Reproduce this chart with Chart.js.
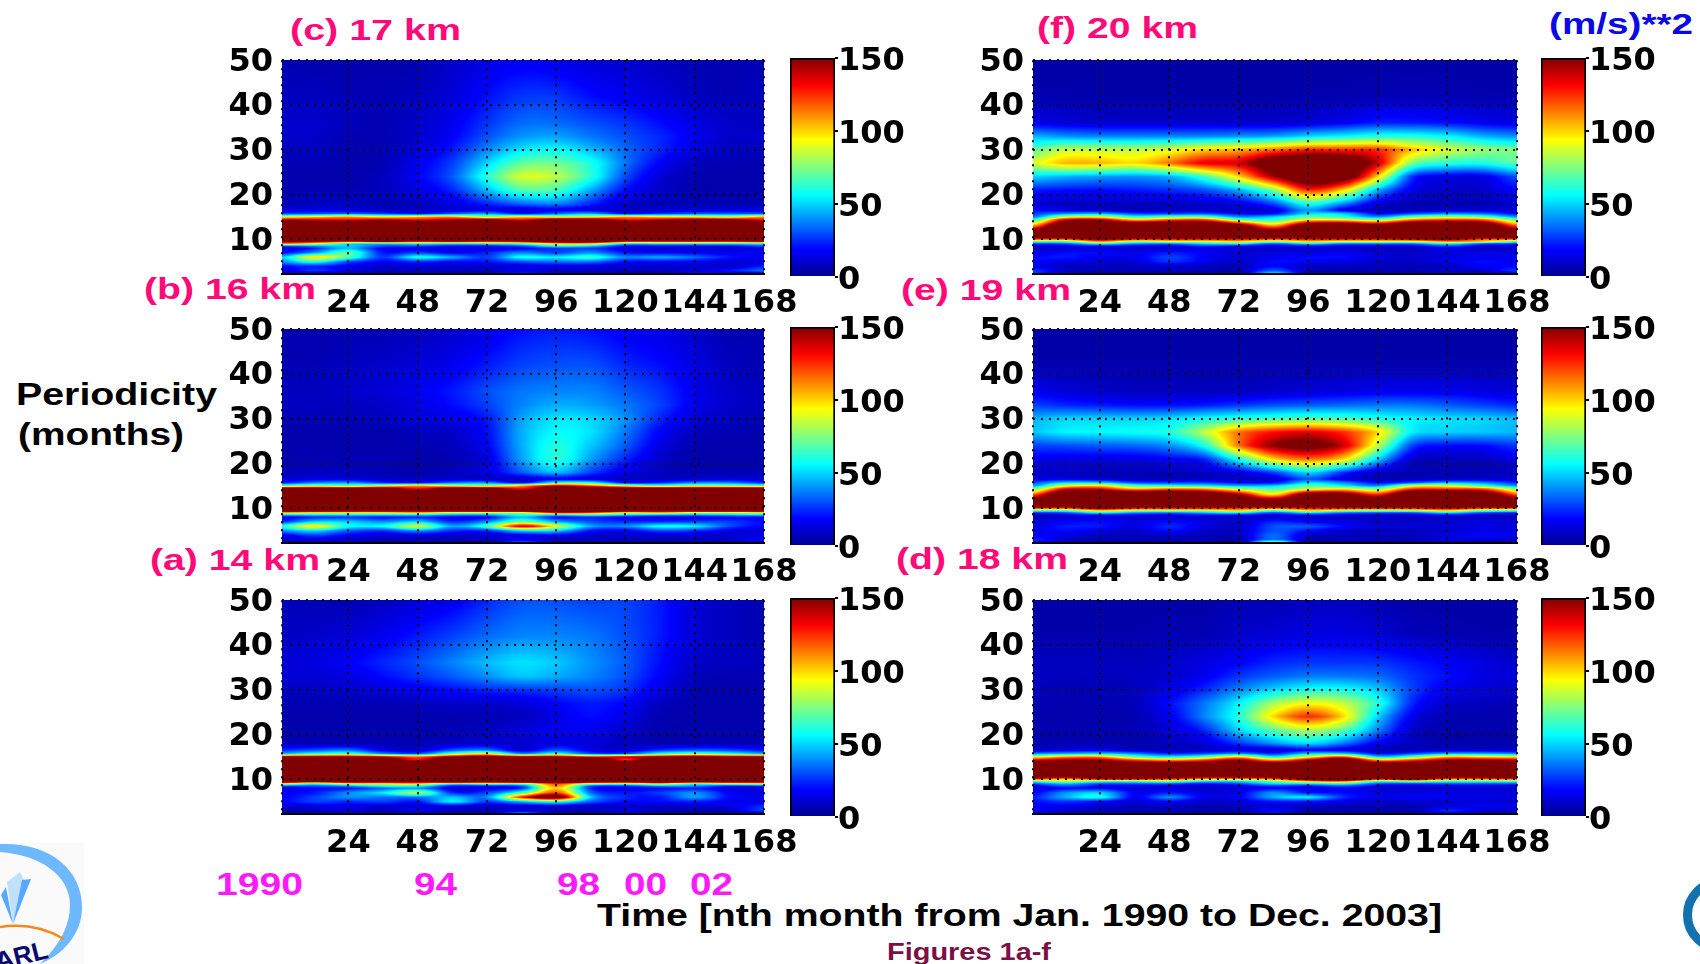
<!DOCTYPE html>
<html>
<head>
<meta charset="utf-8">
<title>Periodicity spectra</title>
<script src="https://cdn.jsdelivr.net/npm/chart.js@4"></script>
<style>
    html, body { margin: 0; background: #fff; }
    body { width: 1700px; height: 964px; position: relative; overflow: hidden; }
    canvas { position: absolute; }
    svg { position: absolute; left: 0; top: 0; }
    svg text { font-family: "Liberation Sans", sans-serif; font-weight: bold; }
</style>
</head>
<body>
<svg width="1700" height="964" viewBox="0 0 1700 964">
    <!-- logos -->
    <rect x="0" y="843" width="84" height="121" fill="#fafafa"/>
    <path d="M0 844 C50 842 82 870 82 907 C82 935 62 955 40 964 C60 945 70 925 70 905 C70 875 40 855 0 852 Z" fill="#6db8ff"/>
    <polygon points="13,924 1,895 6,887 13,924" fill="#55aaff"/>
    <polygon points="13,924 7,882 20,872 24,880 13,924" fill="#bfe0ff"/>
    <polygon points="13,924 22,880 31,879 13,924" fill="#55aaff"/>
    <path d="M0 927 Q35 922 64 939" fill="none" stroke="#f28a1c" stroke-width="2.5"/>
    <text x="-4" y="970" transform="rotate(-14 0 964)" font-size="26" fill="#0a0a6e">ARL</text>
    <circle cx="1721" cy="915" r="33.5" fill="none" stroke="#1172b0" stroke-width="9"/>

    <!-- panel titles -->
    <g font-size="29" fill="#ff0a78">
        <text x="290" y="40" textLength="171" lengthAdjust="spacingAndGlyphs">(c) 17 km</text>
        <text x="1037" y="38" textLength="161" lengthAdjust="spacingAndGlyphs">(f) 20 km</text>
        <text x="144" y="299" textLength="172" lengthAdjust="spacingAndGlyphs">(b) 16 km</text>
        <text x="901" y="300" textLength="170" lengthAdjust="spacingAndGlyphs">(e) 19 km</text>
        <text x="150" y="570" textLength="170" lengthAdjust="spacingAndGlyphs">(a) 14 km</text>
        <text x="896" y="569" textLength="172" lengthAdjust="spacingAndGlyphs">(d) 18 km</text>
    </g>
    <text x="1549" y="34" font-size="30" fill="#0a0ae6" textLength="144" lengthAdjust="spacingAndGlyphs">(m/s)**2</text>

    <!-- axis captions -->
    <g font-size="31" fill="#000">
        <text x="16" y="405" textLength="201" lengthAdjust="spacingAndGlyphs">Periodicity</text>
        <text x="18" y="445" textLength="166" lengthAdjust="spacingAndGlyphs">(months)</text>
        <text x="597" y="926" textLength="845" lengthAdjust="spacingAndGlyphs">Time [nth month from Jan. 1990 to Dec. 2003]</text>
    </g>
    <g font-size="31" fill="#ff19ff">
        <text x="216" y="895" textLength="87" lengthAdjust="spacingAndGlyphs">1990</text>
        <text x="414" y="895" textLength="43" lengthAdjust="spacingAndGlyphs">94</text>
        <text x="557" y="895" textLength="43" lengthAdjust="spacingAndGlyphs">98</text>
        <text x="624" y="895" textLength="43" lengthAdjust="spacingAndGlyphs">00</text>
        <text x="690" y="895" textLength="43" lengthAdjust="spacingAndGlyphs">02</text>
    </g>
    <text x="887" y="960" font-size="24" fill="#7a1044" textLength="164" lengthAdjust="spacingAndGlyphs">Figures 1a-f</text>
</svg>

<script>
// Grille : mois (colonnes) et périodes (lignes, de haut en bas)
const months = [1, 12, 24, 36, 48, 60, 72, 84, 96, 108, 120, 132, 144, 156, 168];
const periods = [50, 42, 36, 33, 30, 27, 24, 21, 18, 16.5, 15.7, 15, 14.4, 13, 11, 10, 9.5, 9, 8.5, 8, 7, 6, 5, 4, 3, 2.3];

const monthTicks = [1, 24, 48, 72, 96, 120, 144, 168];
const periodTicks = [10, 20, 30, 40, 50];
const colorTicks = [0, 50, 100, 150];
const colorMax = [150];

// Palette type jet
const jetValues = [0, 18.75, 56, 75, 94, 131, 150];
const jetColors = [[0, 0, 143], [0, 0, 255], [0, 255, 255], [128, 255, 128], [255, 255, 0], [255, 0, 0], [128, 0, 0]];

const km17 = [
    [6, 5, 5, 5, 6, 10, 14, 16, 14, 12, 10, 8, 6, 6, 6],
    [8, 8, 6, 6, 8, 12, 20, 26, 26, 20, 16, 12, 8, 6, 8],
    [10, 10, 8, 6, 10, 16, 26, 34, 34, 30, 26, 20, 14, 10, 8],
    [10, 10, 6, 6, 10, 18, 30, 40, 42, 36, 30, 24, 16, 10, 10],
    [8, 8, 6, 6, 12, 22, 38, 52, 56, 46, 34, 24, 14, 8, 8],
    [6, 6, 5, 6, 16, 28, 50, 70, 72, 60, 36, 18, 8, 6, 6],
    [5, 5, 5, 8, 18, 32, 62, 88, 84, 62, 30, 12, 6, 5, 5],
    [5, 6, 6, 8, 14, 24, 46, 68, 66, 44, 20, 10, 5, 5, 5],
    [6, 8, 8, 6, 8, 14, 24, 34, 38, 24, 10, 6, 6, 6, 6],
    [12, 14, 12, 8, 8, 10, 12, 10, 14, 12, 8, 10, 12, 12, 14],
    [28, 30, 34, 28, 20, 32, 42, 20, 34, 44, 20, 26, 32, 32, 30],
    [90, 100, 110, 95, 105, 110, 80, 100, 85, 90, 110, 100, 95, 85, 110],
    [140, 135, 130, 140, 130, 140, 150, 130, 160, 160, 130, 140, 150, 150, 130],
    [200, 200, 200, 200, 200, 200, 200, 200, 200, 200, 200, 200, 200, 200, 200],
    [200, 200, 200, 200, 200, 200, 200, 200, 200, 200, 200, 200, 200, 200, 200],
    [200, 200, 200, 200, 200, 200, 200, 200, 200, 200, 200, 200, 200, 200, 200],
    [150, 145, 130, 150, 130, 140, 130, 140, 170, 170, 130, 130, 130, 130, 140],
    [110, 90, 50, 45, 55, 50, 55, 65, 95, 95, 50, 50, 50, 50, 55],
    [30, 40, 50, 30, 30, 20, 20, 30, 60, 50, 20, 20, 20, 20, 30],
    [10, 22, 45, 16, 12, 12, 12, 16, 25, 25, 12, 10, 10, 10, 12],
    [20, 40, 70, 22, 28, 18, 24, 38, 28, 40, 22, 18, 18, 16, 18],
    [50, 100, 70, 28, 60, 45, 28, 60, 55, 65, 40, 45, 35, 22, 16],
    [40, 60, 30, 18, 24, 18, 22, 30, 35, 35, 20, 18, 18, 12, 12],
    [20, 22, 16, 10, 12, 10, 10, 12, 14, 12, 10, 10, 10, 10, 22],
    [12, 26, 14, 8, 8, 8, 8, 14, 10, 10, 8, 8, 12, 22, 35],
    [6, 10, 6, 4, 6, 4, 4, 25, 8, 4, 4, 4, 20, 8, 10]
];

const km20 = [
    [4, 4, 4, 4, 4, 4, 4, 4, 4, 4, 4, 4, 4, 4, 4],
    [5, 5, 4, 4, 4, 4, 4, 4, 5, 5, 6, 6, 6, 5, 5],
    [14, 12, 10, 10, 10, 10, 10, 10, 12, 16, 22, 22, 20, 16, 14],
    [45, 40, 38, 38, 38, 38, 40, 42, 50, 55, 60, 60, 55, 45, 40],
    [70, 85, 85, 85, 90, 100, 105, 115, 125, 125, 125, 105, 90, 80, 75],
    [90, 105, 105, 100, 115, 135, 140, 175, 190, 180, 140, 75, 62, 60, 70],
    [50, 45, 42, 40, 45, 65, 100, 145, 180, 170, 100, 25, 14, 14, 30],
    [22, 20, 20, 22, 25, 30, 45, 75, 125, 100, 45, 15, 10, 10, 18],
    [10, 8, 8, 8, 8, 10, 14, 30, 60, 40, 12, 6, 6, 6, 10],
    [20, 12, 8, 6, 8, 8, 8, 12, 40, 14, 6, 6, 8, 10, 12],
    [28, 40, 45, 30, 28, 30, 20, 20, 50, 50, 20, 30, 40, 35, 20],
    [35, 85, 90, 60, 70, 70, 40, 50, 70, 60, 40, 70, 80, 70, 40],
    [60, 135, 140, 100, 115, 120, 70, 60, 90, 90, 75, 110, 120, 115, 70],
    [110, 190, 200, 200, 200, 200, 170, 110, 180, 190, 170, 200, 200, 190, 120],
    [200, 200, 200, 200, 200, 200, 200, 200, 200, 200, 200, 200, 200, 200, 200],
    [120, 120, 150, 130, 130, 130, 130, 120, 130, 130, 130, 140, 150, 120, 120],
    [70, 70, 110, 80, 90, 90, 100, 80, 100, 90, 90, 90, 110, 100, 70],
    [25, 30, 55, 40, 35, 50, 55, 30, 50, 35, 35, 35, 55, 30, 25],
    [12, 15, 20, 15, 15, 25, 20, 14, 20, 15, 14, 14, 30, 14, 12],
    [8, 10, 12, 10, 10, 14, 10, 8, 10, 10, 8, 8, 14, 8, 8],
    [14, 20, 20, 16, 22, 18, 12, 14, 14, 16, 10, 10, 14, 14, 14],
    [20, 22, 16, 16, 28, 18, 12, 16, 20, 20, 14, 10, 14, 16, 16],
    [20, 14, 12, 12, 26, 16, 10, 20, 18, 14, 10, 10, 14, 20, 16],
    [14, 8, 8, 8, 10, 8, 6, 18, 8, 8, 8, 6, 8, 18, 18],
    [28, 10, 8, 6, 8, 8, 6, 32, 8, 6, 6, 6, 10, 10, 28],
    [26, 6, 4, 4, 4, 4, 4, 55, 4, 4, 4, 4, 8, 4, 14]
];

const km16 = [
    [5, 5, 6, 6, 8, 10, 14, 20, 22, 20, 16, 14, 10, 6, 6],
    [6, 6, 8, 10, 12, 16, 22, 28, 30, 30, 24, 20, 14, 8, 6],
    [8, 8, 10, 12, 16, 22, 30, 36, 38, 38, 32, 26, 16, 10, 8],
    [8, 8, 8, 10, 14, 20, 28, 38, 44, 42, 36, 28, 16, 10, 8],
    [6, 6, 6, 8, 12, 14, 22, 42, 52, 50, 40, 24, 12, 8, 6],
    [5, 5, 5, 5, 8, 10, 20, 44, 56, 52, 36, 18, 8, 6, 5],
    [5, 5, 5, 5, 6, 8, 18, 44, 60, 48, 32, 14, 6, 5, 5],
    [5, 6, 6, 6, 5, 6, 14, 42, 62, 42, 24, 10, 5, 5, 5],
    [6, 8, 8, 6, 5, 8, 14, 32, 46, 28, 14, 8, 6, 6, 6],
    [10, 14, 12, 10, 8, 10, 8, 8, 14, 10, 8, 8, 10, 12, 12],
    [22, 36, 42, 24, 18, 34, 40, 14, 60, 60, 18, 24, 38, 38, 24],
    [70, 80, 70, 90, 110, 90, 80, 110, 140, 120, 90, 70, 80, 75, 70],
    [170, 170, 170, 170, 130, 170, 170, 130, 180, 180, 170, 170, 170, 170, 170],
    [200, 200, 200, 200, 200, 200, 200, 200, 200, 200, 200, 200, 200, 200, 200],
    [200, 200, 200, 200, 200, 200, 200, 200, 200, 200, 200, 200, 200, 200, 200],
    [200, 200, 200, 200, 200, 200, 200, 200, 200, 200, 200, 200, 200, 200, 200],
    [180, 180, 170, 170, 170, 180, 180, 190, 190, 190, 180, 170, 180, 180, 180],
    [100, 90, 90, 90, 100, 80, 80, 80, 130, 120, 90, 100, 80, 80, 90],
    [45, 50, 50, 50, 50, 40, 40, 60, 50, 60, 50, 40, 40, 45, 50],
    [12, 22, 24, 18, 22, 14, 16, 45, 18, 22, 14, 12, 12, 16, 16],
    [25, 50, 50, 40, 50, 25, 40, 70, 45, 30, 25, 25, 28, 28, 20],
    [65, 100, 60, 60, 90, 45, 70, 140, 95, 45, 40, 60, 55, 30, 18],
    [40, 50, 32, 25, 40, 25, 24, 50, 50, 20, 16, 28, 25, 14, 12],
    [16, 28, 18, 12, 12, 10, 10, 14, 16, 10, 10, 10, 10, 10, 14],
    [10, 10, 10, 6, 8, 6, 8, 16, 8, 8, 8, 6, 8, 10, 20],
    [6, 6, 4, 4, 4, 4, 4, 35, 6, 4, 4, 4, 4, 4, 8]
];

const km19 = [
    [4, 4, 4, 4, 4, 4, 4, 4, 4, 4, 4, 4, 4, 4, 4],
    [5, 5, 5, 5, 5, 5, 5, 5, 5, 5, 5, 5, 5, 5, 5],
    [16, 12, 10, 8, 8, 8, 8, 10, 12, 14, 16, 16, 16, 14, 12],
    [28, 24, 22, 20, 20, 22, 26, 30, 32, 34, 36, 36, 32, 28, 24],
    [45, 50, 50, 50, 52, 58, 62, 65, 68, 66, 60, 55, 52, 50, 46],
    [48, 55, 56, 58, 62, 85, 115, 130, 135, 125, 100, 55, 50, 48, 46],
    [28, 30, 32, 34, 40, 60, 115, 150, 160, 140, 85, 28, 20, 20, 26],
    [16, 14, 14, 14, 18, 24, 60, 100, 115, 100, 50, 10, 8, 8, 14],
    [8, 8, 6, 6, 6, 8, 14, 28, 50, 26, 8, 6, 6, 6, 8],
    [14, 14, 10, 8, 6, 8, 8, 10, 30, 12, 6, 6, 8, 10, 12],
    [30, 50, 50, 30, 28, 28, 20, 20, 50, 40, 20, 30, 45, 40, 25],
    [40, 90, 100, 70, 60, 55, 45, 50, 70, 55, 40, 90, 90, 65, 40],
    [70, 130, 130, 100, 110, 105, 80, 65, 80, 90, 75, 120, 120, 115, 75],
    [120, 190, 200, 200, 200, 190, 150, 100, 170, 170, 130, 200, 200, 190, 120],
    [200, 200, 200, 200, 200, 200, 200, 200, 200, 200, 200, 200, 200, 200, 200],
    [125, 120, 150, 130, 130, 130, 125, 120, 130, 130, 130, 130, 140, 125, 125],
    [70, 70, 100, 85, 85, 85, 100, 70, 100, 85, 80, 85, 100, 75, 70],
    [25, 30, 55, 40, 35, 45, 55, 30, 50, 35, 30, 30, 50, 30, 25],
    [10, 14, 20, 16, 15, 20, 20, 14, 20, 14, 12, 12, 20, 12, 10],
    [6, 10, 12, 10, 10, 10, 8, 10, 10, 8, 8, 8, 10, 8, 6],
    [12, 18, 20, 14, 20, 14, 10, 24, 18, 14, 10, 10, 10, 14, 12],
    [14, 22, 22, 14, 24, 14, 10, 30, 32, 20, 12, 12, 12, 14, 12],
    [14, 20, 14, 10, 20, 10, 10, 30, 20, 10, 8, 8, 10, 14, 14],
    [18, 14, 8, 8, 8, 8, 8, 34, 10, 8, 8, 8, 14, 20, 16],
    [25, 10, 6, 6, 6, 6, 6, 35, 6, 6, 6, 6, 12, 10, 10],
    [20, 6, 4, 4, 4, 4, 4, 85, 4, 4, 4, 4, 6, 4, 4]
];

const km14 = [
    [8, 6, 6, 8, 12, 16, 24, 30, 30, 28, 28, 22, 12, 8, 6],
    [8, 10, 12, 16, 22, 28, 34, 38, 38, 36, 30, 22, 12, 8, 6],
    [12, 14, 18, 24, 30, 38, 46, 52, 48, 40, 32, 20, 10, 8, 8],
    [12, 12, 14, 20, 26, 32, 40, 48, 44, 38, 30, 18, 8, 6, 6],
    [8, 8, 10, 12, 16, 20, 24, 26, 28, 30, 26, 14, 6, 5, 5],
    [6, 6, 6, 6, 8, 10, 10, 12, 18, 22, 18, 8, 5, 5, 5],
    [5, 5, 5, 5, 5, 5, 6, 8, 14, 20, 14, 6, 5, 5, 5],
    [5, 5, 5, 5, 5, 6, 8, 12, 16, 16, 10, 5, 5, 5, 5],
    [6, 6, 6, 6, 6, 8, 10, 10, 14, 12, 8, 5, 6, 6, 6],
    [25, 30, 35, 14, 10, 30, 35, 10, 30, 14, 10, 25, 30, 28, 20],
    [45, 60, 65, 40, 30, 70, 90, 40, 60, 30, 30, 60, 70, 60, 45],
    [150, 150, 150, 140, 120, 150, 160, 150, 150, 130, 140, 150, 160, 150, 150],
    [200, 200, 200, 180, 130, 200, 200, 190, 200, 200, 125, 200, 200, 200, 200],
    [200, 200, 200, 200, 200, 200, 200, 200, 200, 200, 200, 200, 200, 200, 200],
    [200, 200, 200, 200, 200, 200, 200, 200, 200, 200, 200, 200, 200, 200, 200],
    [200, 200, 200, 200, 200, 200, 200, 200, 200, 200, 200, 200, 200, 200, 200],
    [180, 150, 170, 170, 160, 190, 170, 190, 200, 180, 170, 190, 170, 170, 170],
    [90, 60, 90, 90, 100, 60, 70, 70, 120, 80, 70, 95, 60, 80, 90],
    [30, 30, 40, 60, 60, 20, 20, 30, 110, 30, 25, 40, 40, 20, 25],
    [12, 18, 20, 32, 38, 12, 14, 24, 100, 24, 14, 18, 20, 12, 12],
    [18, 22, 40, 55, 85, 25, 30, 65, 120, 35, 22, 28, 40, 18, 14],
    [18, 28, 40, 35, 35, 48, 40, 130, 170, 50, 25, 22, 42, 20, 16],
    [18, 28, 24, 28, 22, 55, 28, 45, 60, 32, 20, 20, 22, 16, 14],
    [10, 14, 14, 10, 10, 12, 8, 10, 10, 8, 8, 8, 10, 14, 25],
    [6, 8, 12, 8, 18, 8, 8, 12, 10, 8, 14, 8, 6, 8, 30],
    [4, 4, 8, 4, 4, 4, 4, 45, 4, 4, 10, 4, 4, 4, 6]
];

const km18 = [
    [4, 4, 4, 4, 4, 4, 6, 6, 8, 8, 6, 4, 4, 4, 4],
    [5, 5, 5, 5, 6, 6, 10, 12, 14, 14, 12, 8, 6, 5, 5],
    [8, 8, 8, 8, 10, 14, 18, 24, 26, 26, 26, 22, 18, 14, 10],
    [8, 8, 8, 8, 10, 16, 26, 32, 36, 36, 34, 26, 20, 14, 12],
    [8, 6, 6, 8, 14, 24, 38, 50, 58, 58, 48, 28, 16, 12, 10],
    [6, 5, 6, 8, 20, 36, 55, 80, 92, 85, 62, 24, 10, 8, 6],
    [5, 5, 5, 6, 16, 38, 62, 100, 125, 100, 50, 16, 6, 5, 5],
    [5, 5, 5, 6, 12, 24, 50, 70, 82, 70, 38, 10, 5, 5, 5],
    [5, 6, 6, 5, 8, 12, 26, 40, 50, 36, 16, 8, 5, 5, 5],
    [8, 12, 14, 8, 6, 8, 10, 8, 16, 12, 6, 6, 8, 10, 8],
    [40, 45, 50, 40, 25, 30, 40, 25, 50, 50, 20, 30, 45, 45, 40],
    [90, 110, 110, 70, 55, 70, 100, 55, 90, 120, 50, 70, 105, 100, 95],
    [130, 140, 140, 115, 100, 115, 140, 100, 135, 170, 100, 115, 140, 140, 135],
    [200, 200, 200, 200, 200, 200, 200, 200, 200, 200, 200, 200, 200, 200, 200],
    [200, 200, 200, 200, 200, 200, 200, 200, 200, 200, 200, 200, 200, 200, 200],
    [120, 100, 130, 130, 120, 100, 100, 110, 160, 180, 130, 150, 110, 110, 120],
    [60, 80, 60, 60, 70, 50, 50, 70, 100, 110, 60, 70, 60, 60, 60],
    [30, 45, 30, 30, 30, 20, 30, 50, 50, 60, 30, 25, 30, 30, 30],
    [14, 30, 18, 14, 12, 10, 14, 24, 20, 30, 14, 12, 14, 14, 12],
    [10, 18, 18, 12, 12, 10, 12, 18, 14, 16, 10, 10, 10, 10, 10],
    [18, 40, 50, 18, 22, 14, 16, 40, 22, 20, 14, 14, 14, 14, 12],
    [24, 45, 60, 18, 40, 16, 18, 45, 55, 26, 16, 18, 16, 14, 14],
    [20, 25, 18, 12, 18, 10, 12, 20, 20, 14, 10, 10, 10, 12, 10],
    [16, 16, 10, 8, 8, 6, 8, 10, 8, 6, 6, 6, 12, 18, 14],
    [20, 10, 8, 6, 6, 6, 6, 20, 6, 6, 6, 6, 25, 12, 12],
    [14, 6, 4, 4, 4, 4, 4, 20, 4, 4, 4, 4, 15, 4, 6]
];

Chart.defaults.animation = false;
Chart.defaults.responsive = false;
Chart.defaults.font.family = '"DejaVu Sans", sans-serif';
Chart.defaults.font.weight = 'bold';
Chart.defaults.font.size = 32;
Chart.defaults.color = '#000';
Chart.defaults.plugins.legend.display = false;
Chart.defaults.plugins.tooltip.enabled = false;

// Couleur jet pour une valeur
function jet(v) {
    if (v <= 0) return jetColors[0];
    for (let i = 1; i < jetValues.length; i++) {
        if (v <= jetValues[i]) {
            const t = (v - jetValues[i - 1]) / (jetValues[i] - jetValues[i - 1]);
            const a = jetColors[i - 1], b = jetColors[i];
            return [a[0] + (b[0] - a[0]) * t, a[1] + (b[1] - a[1]) * t, a[2] + (b[2] - a[2]) * t];
        }
    }
    return jetColors[jetColors.length - 1];
}

// Lissage horizontal d'une ligne de la grille (ombrage du pcolor d'origine)
function rowValue(row, m) {
    let i = 0;
    while (i < months.length - 2 && m > months[i + 1]) i++;
    const t = Math.min(1, Math.max(0, (m - months[i]) / (months[i + 1] - months[i])));
    const p0 = row[Math.max(i - 1, 0)], p1 = row[i], p2 = row[i + 1], p3 = row[Math.min(i + 2, row.length - 1)];
    return 0.5 * (2 * p1 + (p2 - p0) * t + (2 * p0 - 5 * p1 + 4 * p2 - p3) * t * t + (3 * p1 - p0 - 3 * p2 + p3) * t * t * t);
}

// Dessine la grille du jeu de données via les échelles du graphique
const heatmapPlugin = {
    id: 'heatmap',
    beforeDraw(chart) {
        const grid = chart.options.plugins.heatmap.grid;
        const { left, top, width, height } = chart.chartArea;
        const xs = chart.scales.x, ys = chart.scales.y;
        const w = Math.round(width), h = Math.round(height);
        const img = chart.ctx.createImageData(w, h);
        for (let py = 0; py < h; py++) {
            const p = ys.getValueForPixel(top + py + 0.5);
            let j = 0;
            while (j < periods.length - 2 && p < periods[j + 1]) j++;
            const t = Math.min(1, Math.max(0, (periods[j] - p) / (periods[j] - periods[j + 1])));
            for (let px = 0; px < w; px++) {
                const m = xs.getValueForPixel(left + px + 0.5);
                const v = rowValue(grid[j], m) * (1 - t) + rowValue(grid[j + 1], m) * t;
                const c = jet(v);
                const k = (py * w + px) * 4;
                img.data[k] = c[0];
                img.data[k + 1] = c[1];
                img.data[k + 2] = c[2];
                img.data[k + 3] = 255;
            }
        }
        chart.ctx.putImageData(img, Math.round(left), Math.round(top));
    }
};

function addCanvas(left, top, width, height) {
    const canvas = document.createElement('canvas');
    canvas.width = width;
    canvas.height = height;
    canvas.style.left = left + 'px';
    canvas.style.top = top + 'px';
    document.body.appendChild(canvas);
    return canvas;
}

function drawPanel(grid, plotLeft, plotTop, plotWidth) {
    const canvas = addCanvas(plotLeft - 90, plotTop - 26, plotWidth + 90 + 50, 216 + 26 + 55);
    const points = [];
    periods.forEach((p, j) => months.forEach((m, i) => points.push({ x: m, y: p, v: grid[j][i] })));
    new Chart(canvas, {
        type: 'scatter',
        data: { datasets: [{ data: points, pointRadius: 0 }] },
        plugins: [heatmapPlugin],
        options: {
            layout: { padding: { top: 20, right: 50 } },
            plugins: { heatmap: { grid: grid } },
            scales: {
                x: {
                    type: 'linear', min: 1, max: 168,
                    afterFit: s => { s.height = 55; },
                    afterBuildTicks: s => { s.ticks = monthTicks.map(v => ({ value: v })); },
                    grid: { color: '#000', lineWidth: 2, drawTicks: false },
                    border: { color: '#000', width: 2, dash: [2, 6] },
                    ticks: { padding: 10, autoSkip: false, maxRotation: 0, callback: v => (v === 1 ? '' : v) }
                },
                y: {
                    type: 'linear', min: 2.3, max: 50,
                    afterFit: s => { s.width = 90; },
                    afterBuildTicks: s => { s.ticks = periodTicks.map(v => ({ value: v })); },
                    grid: { color: '#000', lineWidth: 2, drawTicks: false },
                    border: { display: false, dash: [2, 6] },
                    ticks: { padding: 9, autoSkip: false, labelOffset: 2 }
                }
            }
        }
    });
}

function drawColorbar(barLeft, plotTop) {
    const canvas = addCanvas(barLeft, plotTop - 20, 45 + 90, 216 + 20 + 23);
    new Chart(canvas, {
        type: 'bar',
        data: {
            labels: [''],
            datasets: [{
                data: colorMax,
                barPercentage: 1,
                categoryPercentage: 1,
                borderColor: '#000',
                borderWidth: 2,
                backgroundColor: ctx => {
                    const { chart } = ctx;
                    if (!chart.chartArea) return '#800000';
                    const ys = chart.scales.y;
                    const g = chart.ctx.createLinearGradient(0, ys.getPixelForValue(0), 0, ys.getPixelForValue(150));
                    jetValues.forEach((v, i) => g.addColorStop(v / 150, `rgb(${jetColors[i].join(',')})`));
                    return g;
                }
            }]
        },
        options: {
            layout: { padding: { top: 20, bottom: 20 } },
            scales: {
                x: { display: false },
                y: {
                    position: 'right', min: 0, max: 150,
                    afterFit: s => { s.width = 90; },
                    afterBuildTicks: s => { s.ticks = colorTicks.map(v => ({ value: v })); },
                    grid: { drawOnChartArea: false, color: '#000', tickLength: 3, lineWidth: 2 },
                    border: { display: false },
                    ticks: { padding: 0, autoSkip: false, labelOffset: 4 }
                }
            }
        }
    });
}

// Colonne de gauche
drawPanel(km17, 282, 58, 482);
drawPanel(km16, 282, 327, 482);
drawPanel(km14, 282, 598, 482);
drawColorbar(790, 58);
drawColorbar(790, 327);
drawColorbar(790, 598);

// Colonne de droite
drawPanel(km20, 1033, 58, 484);
drawPanel(km19, 1033, 327, 484);
drawPanel(km18, 1033, 598, 484);
drawColorbar(1541, 58);
drawColorbar(1541, 327);
drawColorbar(1541, 598);
</script>
</body>
</html>
